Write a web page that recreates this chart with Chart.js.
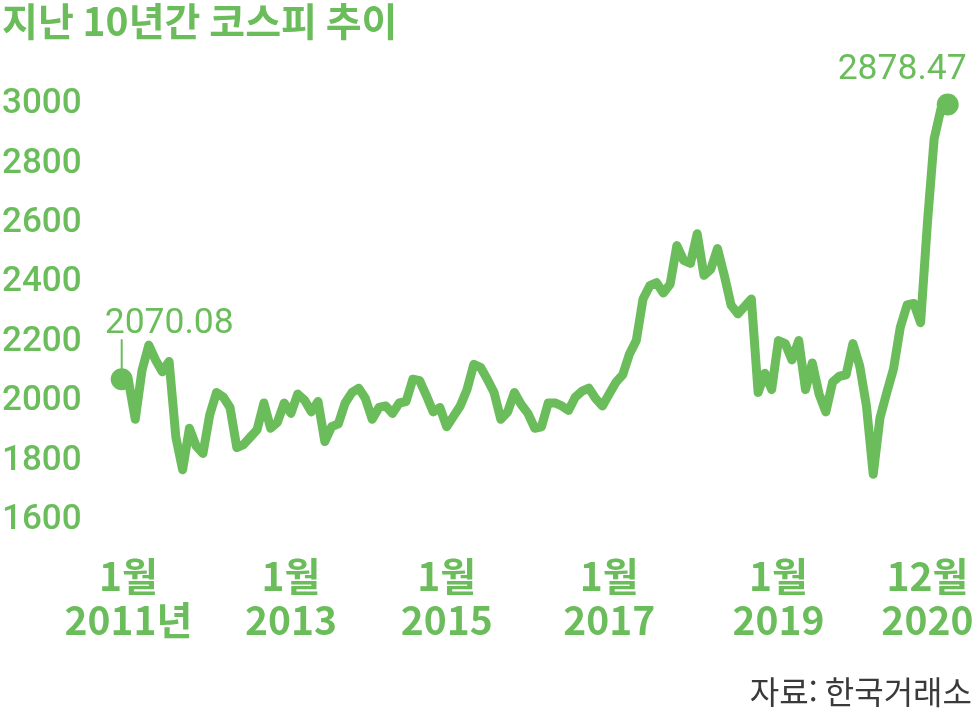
<!DOCTYPE html>
<html lang="ko">
<head>
<meta charset="UTF-8">
<title>지난 10년간 코스피 추이</title>
<script src="https://cdn.jsdelivr.net/npm/chart.js"></script>
<style>
  html, body { margin: 0; padding: 0; background: #fff; }
  .wrap { width: 975px; height: 711px; }
</style>
</head>
<body>
<div class="wrap"><canvas id="kospiChart"></canvas></div>
<script>
  // 2011년 첫 거래일, 2011.1 ~ 2020.12 월말, 그리고 끝의 두 점
  const kospi = [
    2075,
    2070, 1940, 2105, 2190, 2140, 2100, 2135, 1880, 1770, 1910, 1850, 1825,
    1955, 2030, 2015, 1980, 1845, 1855, 1880, 1905, 1995, 1910, 1930, 1995,
    1960, 2025, 2005, 1965, 2000, 1865, 1915, 1925, 1995, 2030, 2045, 2010,
    1940, 1980, 1985, 1960, 1995, 2000, 2075, 2070, 2020, 1965, 1980, 1915,
    1950, 1985, 2040, 2125, 2115, 2075, 2030, 1940, 1965, 2030, 1990, 1960,
    1910, 1915, 1995, 1995, 1985, 1970, 2015, 2035, 2045, 2010, 1985, 2025,
    2065, 2090, 2160, 2205, 2345, 2390, 2400, 2365, 2395, 2525, 2475, 2465,
    2565, 2425, 2445, 2515, 2425, 2325, 2295, 2320, 2345, 2030, 2095, 2040,
    2205, 2195, 2140, 2205, 2040, 2130, 2025, 1965, 2065, 2085, 2090, 2195,
    2120, 1985, 1755, 1945, 2030, 2110, 2250, 2325, 2330, 2265, 2600, 2885,
    2985, 3000
  ];

  const tickAt = [1, 25, 48, 72, 97, 119];
  const tickMonth = ['1월', '1월', '1월', '1월', '1월', '12월'];
  const tickYear = ['2011년', '2013', '2015', '2017', '2019', '2020'];

  const yMin = 1600;
  const yMax = 3000;
  const yStep = 200;

  const calloutText = ['2070.08', '2878.47'];
  const titleText = '지난 10년간 코스피 추이';
  const sourceText = '자료: 한국거래소';

  const green = '#6bbd5b';

  var labels = kospi.map(function (v, i) {
    var k = tickAt.indexOf(i);
    return k >= 0 ? [tickMonth[k], tickYear[k]] : '';
  });

  // 시작/끝 값 표시와 출처
  const callouts = {
    id: 'callouts',
    afterDatasetsDraw(chart) {
      const ctx = chart.ctx;
      const pts = chart.getDatasetMeta(0).data;
      const first = pts[0];
      const last = pts[pts.length - 1];
      ctx.save();
      ctx.fillStyle = green;
      ctx.strokeStyle = green;
      ctx.lineWidth = 2;
      ctx.beginPath();
      ctx.moveTo(first.x, first.y - 10);
      ctx.lineTo(first.x, first.y - 40);
      ctx.stroke();

      ctx.font = '400 35.5px Roboto';
      ctx.textBaseline = 'alphabetic';
      ctx.textAlign = 'left';
      ctx.fillText(calloutText[0], first.x - 17, first.y - 46);
      ctx.textAlign = 'right';
      ctx.fillText(calloutText[1], last.x + 19, last.y - 26);

      ctx.font = '32px "Noto Sans CJK KR"';
      ctx.fillStyle = '#3a3a3a';
      ctx.textBaseline = 'middle';
      ctx.textAlign = 'right';
      ctx.fillText(sourceText, chart.width - 3, 692);
      ctx.restore();
    }
  };

  const lastIdx = kospi.length - 1;

  new Chart(document.getElementById('kospiChart'), {
    type: 'line',
    data: {
      labels: labels,
      datasets: [{
        data: kospi,
        borderColor: green,
        backgroundColor: green,
        borderWidth: 9,
        borderJoinStyle: 'round',
        borderCapStyle: 'round',
        tension: 0,
        clip: false,
        pointRadius: function (c) { return (c.dataIndex === 0 || c.dataIndex === lastIdx) ? 11 : 0; },
        pointBorderWidth: 0,
        pointBackgroundColor: green
      }]
    },
    options: {
      responsive: true,
      maintainAspectRatio: false,
      animation: false,
      events: [],
      layout: { padding: { left: 2, right: 27.3, top: 0, bottom: 35 } },
      plugins: {
        legend: { display: false },
        tooltip: { enabled: false },
        title: {
          display: true,
          text: titleText,
          align: 'start',
          color: green,
          font: { family: '"Noto Sans CJK KR"', size: 39, weight: 'bold', lineHeight: 1.1 },
          padding: { top: 0, bottom: 61.6 }
        }
      },
      scales: {
        x: {
          type: 'category',
          offset: false,
          grid: { display: false, drawTicks: false },
          border: { display: false },
          // 라벨 간격(padding)이 좌우 여백으로 잡히지 않게
          afterFit: function (s) { s.paddingLeft = 0; s.paddingRight = 0; },
          ticks: {
            autoSkip: false,
            maxRotation: 0,
            minRotation: 0,
            padding: 33,
            color: green,
            font: { family: '"Noto Sans CJK KR"', size: 39, weight: 'bold', lineHeight: 1.15 }
          }
        },
        y: {
          min: yMin,
          max: yMax,
          grid: { display: false, drawTicks: false },
          border: { display: false },
          afterFit: function (s) { s.width = 119.7; },
          ticks: {
            stepSize: yStep,
            crossAlign: 'far',
            color: green,
            font: { family: 'Roboto', size: 35, weight: '500' },
            callback: function (v) { return String(v); }
          }
        }
      }
    },
    plugins: [callouts]
  });
</script>
</body>
</html>
